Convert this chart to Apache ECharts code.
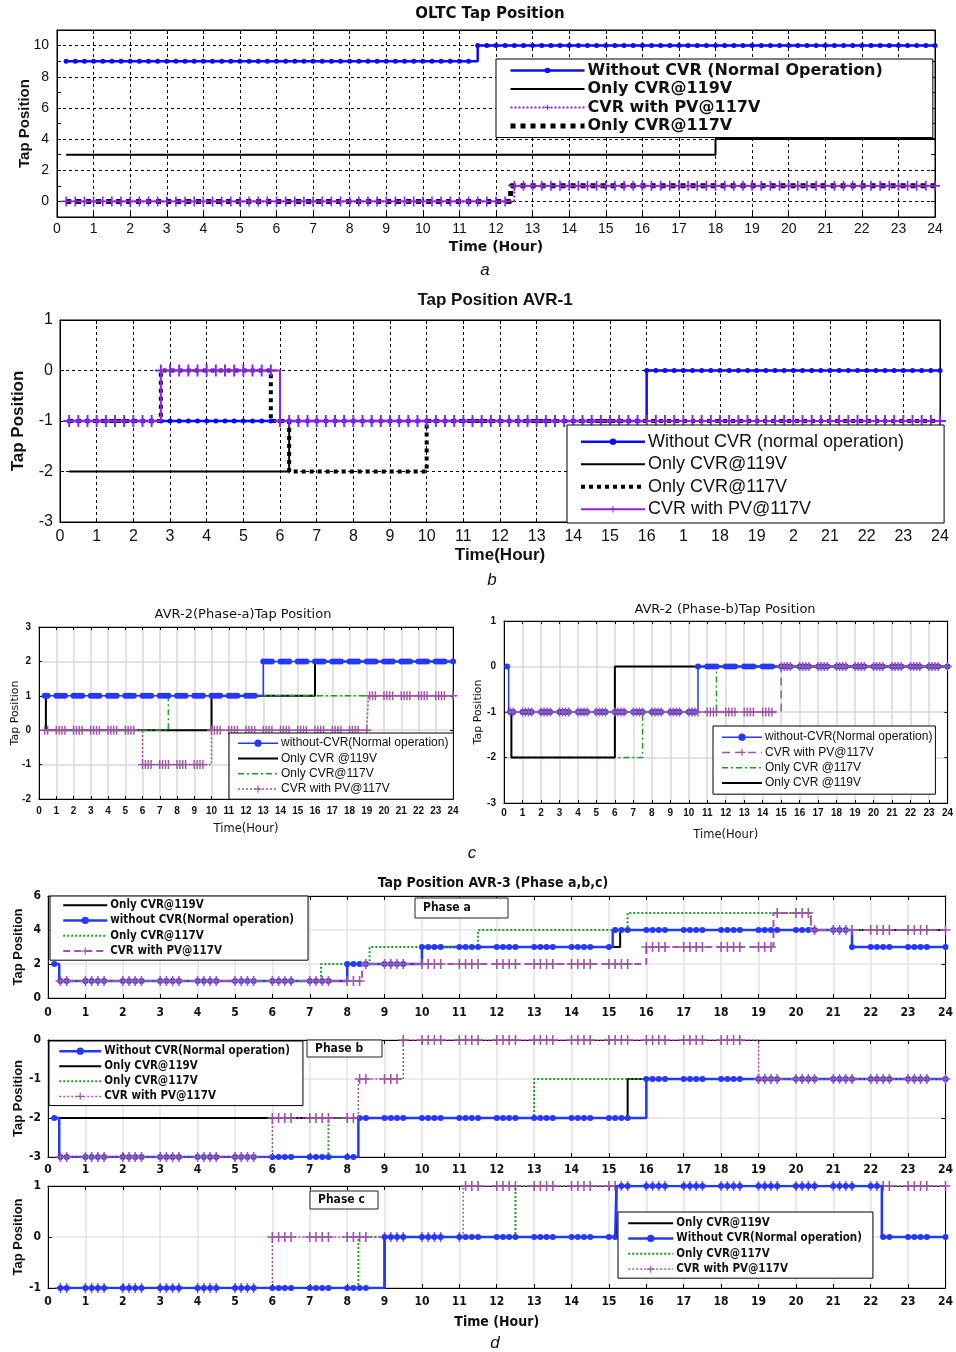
<!DOCTYPE html>
<html><head><meta charset="utf-8">
<script src="https://cdn.jsdelivr.net/npm/echarts@6/dist/echarts.min.js"></script>
<style>
html,body{margin:0;padding:0;background:#fff;}
#wrap{position:relative;width:956px;height:1352px;background:#fff;}
.c{position:absolute;left:0;top:0;width:956px;height:1352px;}
</style></head><body><div id="wrap">
<div class="c" id="pa"></div><div class="c" id="pb"></div><div class="c" id="pcl"></div><div class="c" id="pcr"></div>
<div class="c" id="pd1"></div><div class="c" id="pd2"></div><div class="c" id="pd3"></div>
</div>
<script>
// ---------------- DATA (step breakpoints: time in hours, tap value) ----------------
const hourTicks = [0,1,2,3,4,5,6,7,8,9,10,11,12,13,14,15,16,17,18,19,20,21,22,23,24];
const bHourLabels = ['0','1','2','3','4','5','6','7','8','9','10','11','12','13','14','15','16','1','18','19','2','21','22','23','24'];

// a: OLTC Tap Position
const aWithoutT = [0.25, 11.5];              const aWithoutV = [9, 10];
const aCvr119T  = [0.25, 18];                const aCvr119V  = [3, 4];
const aPvT      = [0.25, 12.5];              const aPvV      = [0, 1];
const aCvr117T  = [0.25, 12.4];              const aCvr117V  = [0, 1];

// b: Tap Position AVR-1
const bWithoutT = [0.25, 16];                const bWithoutV = [-1, 0];
const bCvr119T  = [0.25, 6.25];              const bCvr119V  = [-2, -1];
const bCvr117T  = [0.25, 2.75, 5.75, 6.25, 10]; const bCvr117V = [-1, 0, -1, -2, -1];
const bPvT      = [0.25, 2.75, 6];           const bPvV      = [-1, 0, -1];

// c-left: AVR-2 (Phase-a)
const cLWithoutT = [0.25, 13];               const cLWithoutV = [1, 2];
const cLCvr119T  = [0.25, 0.4, 10, 16];      const cLCvr119V  = [1, 0, 1, 2];
const cLCvr117T  = [0.25, 7.5];              const cLCvr117V  = [0, 1];
const cLPvT      = [0.25, 6, 10, 19.1];      const cLPvV      = [0, -1, 0, 1];

// c-right: AVR-2 (Phase-b)
const cRWithoutT = [0.1, 0.25, 10.5];        const cRWithoutV = [0, -1, 0];
const cRPvT      = [0.25, 15];               const cRPvV      = [-1, 0];
const cRCvr117T  = [0.4, 7.5, 11.5];         const cRCvr117V  = [-2, -1, 0];
const cRCvr119T  = [0.25, 0.4, 6];           const cRCvr119V  = [-1, -2, 0];

// d: AVR-3 phase a
const d1Cvr119T  = [0.25, 8, 10, 15.3];           const d1Cvr119V  = [1, 2, 3, 4];
const d1WithoutT = [0.1, 0.3, 8, 10, 15.1, 21.5]; const d1WithoutV = [2, 1, 2, 3, 4, 3];
const d1Cvr117T  = [0.25, 7.3, 8.6, 11.5, 15.5, 20.4]; const d1Cvr117V = [1, 2, 3, 4, 5, 4];
const d1PvT      = [0.25, 8.4, 16, 19.4, 20.4];   const d1PvV      = [1, 2, 3, 5, 4];
// phase b
const d2WithoutT = [0.1, 0.3, 8.3, 16];           const d2WithoutV = [-2, -3, -2, -1];
const d2Cvr119T  = [0.1, 15.5];                   const d2Cvr119V  = [-2, -1];
const d2Cvr117T  = [0.3, 7.5, 13];                const d2Cvr117V  = [-3, -2, -1];
const d2PvT      = [0.25, 6, 8.3, 9.5, 19];       const d2PvV      = [-3, -2, -1, 0, -1];
// phase c
const d3Cvr119T  = [0.25, 9, 15.2, 22.3];         const d3Cvr119V  = [-1, 0, 1, 0];
const d3WithoutT = [0.25, 9, 15.2, 22.3];         const d3WithoutV = [-1, 0, 1, 0];
const d3Cvr117T  = [0.25, 8.3, 12.5];             const d3Cvr117V  = [-1, 0, 1];
const d3PvT      = [0.25, 6, 11.1];               const d3PvV      = [-1, 0, 1];

// marker sampling times (simulation sample instants where markers are drawn)
const quarterHourSamples = []; for (let k = 1; k <= 96; k++) quarterHourSamples.push(k * 0.25);
const clusterOffsets = [0, 1/6, 1/3, 0.5];
const clusterSamples = []; for (let n = 0; n < 24; n++) clusterOffsets.forEach(o => clusterSamples.push(n + o)); clusterSamples.push(24);

// ---------------- helpers ----------------
const SANS = '"Liberation Sans", Arial, sans-serif';
const WIDE = '"DejaVu Sans", "Liberation Sans", sans-serif';
const NARROW = '"Liberation Sans Narrow", "DejaVu Sans Condensed", "Liberation Sans", sans-serif';
const PLUS = 'path://M4.2,0H5.8V4.2H10V5.8H5.8V10H4.2V5.8H0V4.2H4.2Z';
const NOSYM = 'path://M0,0L10,10';

const rnd = x => Math.round(x * 1000) / 1000;
function valueAt(T, V, x) { let v = V[0]; for (let i = 0; i < T.length; i++) if (T[i] <= x + 1e-9) v = V[i]; return v; }
function stepData(T, V, marks) {
  const xs = new Set(T.map(rnd).concat([24])); const ms = new Set();
  (marks || []).forEach(m => { m = rnd(m); if (m >= T[0] - 1e-9 && m <= 24 + 1e-9) { xs.add(m); ms.add(m); } });
  return Array.from(xs).sort((a, b) => a - b).map(x => { const d = { value: [x, valueAt(T, V, x)] }; if (!ms.has(x)) d.symbol = 'none'; return d; });
}
function S(name, T, V, st) {
  return { name, type: 'line', step: 'end', data: stepData(T, V, st.marks),
    symbol: st.symbol || NOSYM, symbolSize: st.size || 6, showSymbol: !!st.symbol,
    itemStyle: { color: st.color, borderWidth: 0 },
    lineStyle: { color: st.color, width: st.width || 2, type: st.type || 'solid', cap: 'butt' },
    emphasis: { disabled: true }, silent: true, z: st.z || 2, animation: false };
}
function legend(o) {
  return { orient: 'vertical', left: o.left, top: o.top, itemWidth: o.iw, itemHeight: o.ih, itemGap: o.gap,
    padding: o.pad, borderColor: '#000', borderWidth: 1, backgroundColor: '#fff', borderRadius: 0, selectedMode: false,
    lineStyle: { width: 'inherit' },
    textStyle: { fontFamily: o.ff, fontSize: o.fs, fontWeight: o.fw || 'normal', color: '#111', lineHeight: o.lh, padding: [0, 0, 0, -2] },
    data: o.data, z: 10 };
}
function txt(t, x, y, f) {
  return { type: 'text', x, y, z: 50, style: { text: t, align: 'center', verticalAlign: 'middle', textAlign: 'center', textVerticalAlign: 'middle',
    fontSize: f.size, fontFamily: f.family || SANS, fontWeight: f.weight || 'normal', fontStyle: f.style || 'normal', fill: f.color || '#111' } };
}
function phaseBox(t, x, y, w, h, fs) {
  return [{ type: 'rect', z: 40, shape: { x, y, width: w, height: h }, style: { fill: '#fff', stroke: '#222', lineWidth: 1 } },
          { type: 'text', z: 41, x: x + 8, y: y + h / 2, style: { text: t, verticalAlign: 'middle', textVerticalAlign: 'middle', fontSize: fs, fontWeight: 'bold', fontFamily: NARROW, fill: '#111' } }];
}
function opt(p) {
  const tick = { show: true, inside: true, length: p.tickLen || 4, lineStyle: { color: '#000', width: 1 } };
  return {
    animation: false,
    grid: { left: p.g[0], top: p.g[1], width: p.g[2], height: p.g[3], show: true, borderColor: '#000', borderWidth: 1, backgroundColor: 'transparent' },
    xAxis: [
      { type: 'value', min: 0, max: 24, interval: 1, position: 'bottom',
        axisLine: { show: true, onZero: false, lineStyle: { color: '#000', width: 1 } }, axisTick: tick,
        axisLabel: { color: '#111', fontFamily: p.tf, fontSize: p.ts, fontWeight: p.tw || 'normal', margin: p.xm, formatter: p.xFmt || (v => String(v)) },
        splitLine: { show: true, lineStyle: p.splitX },
        name: p.xName || '', nameLocation: 'middle', nameGap: p.xNameGap || 20, nameMoveOverlap: false, nameTextStyle: p.xNameStyle || {} },
      { type: 'value', min: 0, max: 24, interval: 1, position: 'top', axisLine: { show: true, onZero: false, lineStyle: { color: '#000' } },
        axisTick: tick, axisLabel: { show: false }, splitLine: { show: false } }
    ],
    yAxis: [
      { type: 'value', min: p.ymin, max: p.ymax, interval: p.yint, position: 'left',
        axisLine: { show: true, onZero: false, lineStyle: { color: '#000', width: 1 } }, axisTick: tick,
        axisLabel: { color: '#111', fontFamily: p.tf, fontSize: p.ts, fontWeight: p.tw || 'normal', margin: p.ym, formatter: p.yFmt || (v => String(v)) },
        splitLine: { show: true, lineStyle: p.splitY },
        name: p.yName, nameLocation: 'middle', nameGap: p.yNameGap, nameMoveOverlap: false, nameTextStyle: p.yNameStyle },
      { type: 'value', min: p.ymin, max: p.ymax, interval: p.yint, position: 'right',
        axisLine: { show: true, onZero: false, lineStyle: { color: '#000' } }, axisTick: tick, axisLabel: { show: false }, splitLine: { show: false } }
    ],
    legend: p.legend, graphic: { elements: p.graphic || [] }, series: p.series
  };
}
const dashGrid = { color: '#000', width: 1, type: [3, 3] };
const lightGrid = { color: '#d8d8d8', width: 1.5 };
const lightGridD = { color: '#e4e4e4', width: 1.5 };

// ---------------- colours ----------------
const BLUE = '#0a0aff', VIOLET = '#8b22ee', BLACK = '#000', GREEN = '#1e9e1e', MAUVE = '#a055a8', BLUE2 = '#2538ff';

const charts = {};
function init(id) { charts[id] = echarts.init(document.getElementById(id), null, { renderer: 'canvas' }); return charts[id]; }

// ---------------- panel a ----------------
init('pa').setOption(opt({
  g: [57, 30, 878, 187], ymin: -1, ymax: 11, yint: 1,
  yFmt: v => (v >= 0 && v <= 10 && v % 2 === 0) ? String(v) : '',
  tf: SANS, ts: 14, xm: 5, ym: 8,
  splitX: dashGrid, splitY: { color: ['transparent', '#000'], width: 1, type: [3, 3] },
  xName: 'Time (Hour)', xNameGap: 23, xNameStyle: { fontFamily: WIDE, fontWeight: 'bold', fontSize: 14, color: '#111' },
  yName: 'Tap Position', yNameGap: 25, yNameStyle: { fontFamily: SANS, fontWeight: 'bold', fontSize: 15, color: '#111' },
  legend: legend({ left: 496, top: 59, iw: 74, ih: 7, gap: 1.5, pad: [3, 50, 3, 12], ff: WIDE, fs: 16, fw: 'bold', lh: 17,
    data: ['Without CVR (Normal Operation)', 'Only CVR@119V', 'CVR with PV@117V', 'Only CVR@117V'] }),
  graphic: [txt('OLTC Tap Position', 490, 14, { size: 15, weight: 'bold', family: WIDE }),
            txt('a', 485, 270, { size: 17, style: 'italic', family: SANS })],
  series: [
    S('Without CVR (Normal Operation)', aWithoutT, aWithoutV, { color: BLUE, width: 2.5, symbol: 'circle', size: 5, marks: quarterHourSamples }),
    S('Only CVR@119V', aCvr119T, aCvr119V, { color: BLACK, width: 2 }),
    S('Only CVR@117V', aCvr117T, aCvr117V, { color: BLACK, width: 5, type: [5, 5] }),
    S('CVR with PV@117V', aPvT, aPvV, { color: VIOLET, width: 2, type: [2, 2], symbol: PLUS, size: 10, marks: quarterHourSamples, z: 3 })
  ]
}));

// ---------------- panel b ----------------
init('pb').setOption(opt({
  g: [60, 320, 880, 202], ymin: -3, ymax: 1, yint: 1,
  tf: SANS, ts: 16, xm: 7, ym: 7, xFmt: v => bHourLabels[v],
  splitX: dashGrid, splitY: dashGrid,
  xName: 'Time(Hour)', xNameGap: 25, xNameStyle: { fontFamily: SANS, fontWeight: 'bold', fontSize: 17, color: '#111' },
  yName: 'Tap Position', yNameGap: 33, yNameStyle: { fontFamily: SANS, fontWeight: 'bold', fontSize: 17, color: '#111' },
  legend: legend({ left: 567, top: 425, iw: 64, ih: 8, gap: 3, pad: [7, 40, 4, 12], ff: SANS, fs: 18, lh: 19.5,
    data: ['Without CVR (normal operation)', 'Only CVR@119V', 'Only CVR@117V', 'CVR with PV@117V'] }),
  graphic: [txt('Tap Position AVR-1', 495, 300, { size: 17, weight: 'bold', family: SANS }),
            txt('b', 492, 580, { size: 17, style: 'italic', family: SANS })],
  series: [
    S('Without CVR (normal operation)', bWithoutT, bWithoutV, { color: BLUE, width: 2.5, symbol: 'circle', size: 5, marks: quarterHourSamples }),
    S('Only CVR@119V', bCvr119T, bCvr119V, { color: BLACK, width: 2 }),
    S('Only CVR@117V', bCvr117T, bCvr117V, { color: BLACK, width: 4, type: [4, 4] }),
    S('CVR with PV@117V', bPvT, bPvV, { color: VIOLET, width: 2, symbol: PLUS, size: 12, marks: quarterHourSamples, z: 3 })
  ]
}));

// ---------------- panel c-left ----------------
init('pcl').setOption(opt({
  g: [39, 627, 414, 172], ymin: -2, ymax: 3, yint: 1,
  tf: SANS, ts: 10, tw: 'bold', xm: 7, ym: 8, tickLen: 3,
  splitX: lightGrid, splitY: lightGrid,
  xName: 'Time(Hour)', xNameGap: 24, xNameStyle: { fontFamily: WIDE, fontSize: 11.5, color: '#111' },
  yName: 'Tap Position', yNameGap: 18, yNameStyle: { fontFamily: WIDE, fontSize: 11, color: '#111' },
  legend: legend({ left: 229, top: 733, iw: 40, ih: 9, gap: 3, pad: [4, 5, 4, 8], ff: SANS, fs: 12, lh: 12.3,
    data: ['without-CVR(Normal operation)', 'Only CVR @119V', 'Only CVR@117V', 'CVR with PV@117V'] }),
  graphic: [txt('AVR-2(Phase-a)Tap Position', 243, 615, { size: 13, family: WIDE })],
  series: [
    S('Only CVR @119V', cLCvr119T, cLCvr119V, { color: BLACK, width: 2 }),
    S('Only CVR@117V', cLCvr117T, cLCvr117V, { color: GREEN, width: 1.5, type: [6, 3, 2, 3] }),
    S('without-CVR(Normal operation)', cLWithoutT, cLWithoutV, { color: BLUE2, width: 1.5, symbol: 'circle', size: 6, marks: clusterSamples }),
    S('CVR with PV@117V', cLPvT, cLPvV, { color: MAUVE, width: 1.5, type: [2, 2], symbol: PLUS, size: 9, marks: clusterSamples, z: 3 })
  ]
}));

// ---------------- panel c-right ----------------
init('pcr').setOption(opt({
  g: [504, 621, 447, 182], ymin: -3, ymax: 1, yint: 1,
  tf: SANS, ts: 10, tw: 'bold', xm: 5, ym: 8, tickLen: 3,
  splitX: lightGrid, splitY: lightGrid,
  xName: 'Time(Hour)', xNameGap: 26, xNameStyle: { fontFamily: WIDE, fontSize: 11.5, color: '#111' },
  yName: 'Tap Position', yNameGap: 20, yNameStyle: { fontFamily: WIDE, fontSize: 11, color: '#111' },
  legend: legend({ left: 713, top: 726, iw: 40, ih: 9, gap: 3, pad: [5, 3, 5, 8], ff: SANS, fs: 12, lh: 12.3,
    data: ['without-CVR(Normal operation)', 'CVR with PV@117V', 'Only CVR @117V', 'Only CVR @119V'] }),
  graphic: [txt('AVR-2 (Phase-b)Tap Position', 725, 610, { size: 13, family: WIDE }),
            txt('c', 472, 853, { size: 17, style: 'italic', family: SANS })],
  series: [
    S('Only CVR @117V', cRCvr117T, cRCvr117V, { color: GREEN, width: 1.5, type: [6, 3, 2, 3] }),
    S('Only CVR @119V', cRCvr119T, cRCvr119V, { color: BLACK, width: 2 }),
    S('without-CVR(Normal operation)', cRWithoutT, cRWithoutV, { color: BLUE2, width: 1.5, symbol: 'circle', size: 6, marks: clusterSamples }),
    S('CVR with PV@117V', cRPvT, cRPvV, { color: MAUVE, width: 1.5, type: [8, 5], symbol: PLUS, size: 9, marks: clusterSamples, z: 3 })
  ]
}));

// ---------------- panel d ----------------
const dTick = { tf: NARROW, ts: 12, tw: 'bold' };
const dYName = { fontFamily: SANS, fontWeight: 'bold', fontSize: 13, color: '#111' };
init('pd1').setOption(opt(Object.assign({
  g: [48, 896, 898, 102], ymin: 0, ymax: 6, yint: 2, xm: 9, ym: 7,
  splitX: lightGridD, splitY: lightGridD,
  yName: 'Tap Position', yNameGap: 23, yNameStyle: dYName,
  legend: legend({ left: 50, top: 896, iw: 44, ih: 9, gap: 3, pad: [3, 14, 3, 12], ff: NARROW, fs: 11.5, fw: 'bold', lh: 12.3,
    data: ['Only CVR@119V', 'without CVR(Normal operation)', 'Only CVR@117V', 'CVR with PV@117V'] }),
  graphic: [txt('Tap Position AVR-3 (Phase a,b,c)', 493, 883, { size: 14, weight: 'bold', family: NARROW })].concat(phaseBox('Phase a', 415, 898, 93, 20, 12)),
  series: [
    S('Only CVR@119V', d1Cvr119T, d1Cvr119V, { color: BLACK, width: 2 }),
    S('without CVR(Normal operation)', d1WithoutT, d1WithoutV, { color: BLUE2, width: 2.5, symbol: 'circle', size: 6, marks: clusterSamples }),
    S('Only CVR@117V', d1Cvr117T, d1Cvr117V, { color: GREEN, width: 2, type: [2, 2] }),
    S('CVR with PV@117V', d1PvT, d1PvV, { color: MAUVE, width: 2, type: [7, 4], symbol: PLUS, size: 10, marks: clusterSamples, z: 3 })
  ]
}, dTick)));

init('pd2').setOption(opt(Object.assign({
  g: [48, 1040, 898, 117], ymin: -3, ymax: 0, yint: 1, xm: 7, ym: 7,
  splitX: lightGridD, splitY: lightGridD,
  yName: 'Tap Position', yNameGap: 23, yNameStyle: dYName,
  legend: legend({ left: 49, top: 1041, iw: 42, ih: 9, gap: 2.8, pad: [4, 13, 3, 9], ff: NARROW, fs: 11.5, fw: 'bold', lh: 12.3,
    data: ['Without CVR(Normal operation)', 'Only CVR@119V', 'Only CVR@117V', 'CVR with PV@117V'] }),
  graphic: phaseBox('Phase b', 307, 1040, 75, 17, 12),
  series: [
    S('Only CVR@119V', d2Cvr119T, d2Cvr119V, { color: BLACK, width: 2 }),
    S('Only CVR@117V', d2Cvr117T, d2Cvr117V, { color: GREEN, width: 2, type: [2, 2] }),
    S('Without CVR(Normal operation)', d2WithoutT, d2WithoutV, { color: BLUE2, width: 2.5, symbol: 'circle', size: 6, marks: clusterSamples }),
    S('CVR with PV@117V', d2PvT, d2PvV, { color: MAUVE, width: 1.5, type: [2, 2], symbol: PLUS, size: 10, marks: clusterSamples, z: 3 })
  ]
}, dTick)));

init('pd3').setOption(opt(Object.assign({
  g: [48, 1186, 898, 102], ymin: -1, ymax: 1, yint: 1, xm: 8, ym: 7,
  splitX: lightGridD, splitY: lightGridD,
  xName: 'Time (Hour)', xNameGap: 27, xNameStyle: { fontFamily: NARROW, fontWeight: 'bold', fontSize: 14, color: '#111' },
  yName: 'Tap Position', yNameGap: 23, yNameStyle: dYName,
  legend: legend({ left: 618, top: 1212, iw: 45, ih: 9, gap: 3, pad: [5, 11, 3, 9], ff: NARROW, fs: 11.5, fw: 'bold', lh: 12.3,
    data: ['Only CVR@119V', 'Without CVR(Normal operation)', 'Only CVR@117V', 'CVR with PV@117V'] }),
  graphic: phaseBox('Phase c', 310, 1191, 68, 18, 12).concat([txt('d', 495, 1343, { size: 17, style: 'italic', family: SANS })]),
  series: [
    S('Only CVR@119V', d3Cvr119T, d3Cvr119V, { color: BLACK, width: 2 }),
    S('Only CVR@117V', d3Cvr117T, d3Cvr117V, { color: GREEN, width: 2, type: [2, 2] }),
    S('CVR with PV@117V', d3PvT, d3PvV, { color: MAUVE, width: 1.5, type: [2, 2], symbol: PLUS, size: 10, marks: clusterSamples }),
    S('Without CVR(Normal operation)', d3WithoutT, d3WithoutV, { color: BLUE2, width: 2.5, symbol: 'circle', size: 6, marks: clusterSamples, z: 3 })
  ]
}, dTick)));
</script></body></html>
